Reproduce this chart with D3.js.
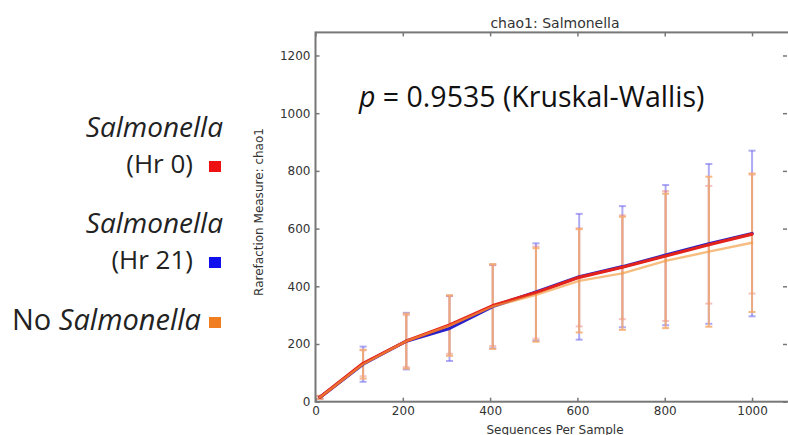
<!DOCTYPE html>
<html><head><meta charset="utf-8">
<script src="https://cdn.jsdelivr.net/npm/d3@7"></script>
<style>
body{margin:0;background:#fff;}
svg{display:block;}
</style></head>
<body><svg id="chart" width="788" height="435"></svg>
<script>
const depths = [10,109,208,307,406,505,604,703,802,901,1000];
const hr0Mean = [15,133,210,266,333,378,431,466,505,544,581];
const hr0Err  = [5,45,90,100,140,160,170,180,225,204,206];
const hr21Mean = [15,130,210,254,330,380,433,468,508,547,583];
const hr21Err  = [5,61,98,113,145,169,218,210,243,277,287];
const noSalMean = [15,130,210,264,330,370,419,445,488,520,551];
const noSalErr  = [5,50,95,105,147,162,179,196,233,260,240];
const xTicks = [0,200,400,600,800,1000];
const yTicks = [0,200,400,600,800,1000,1200];
const seriesNames = ["Salmonella (Hr 0)","Salmonella (Hr 21)","No Salmonella"];

const svg = d3.select("#chart");
const x = d3.scaleLinear().domain([0,1100]).range([315.5,795.7]);
const y = d3.scaleLinear().domain([0,1280]).range([401.7,32.4]);

const series = [
  {name:seriesNames[1], mean:hr21Mean, err:hr21Err, line:"#2a22c8", bar:"rgba(110,100,235,0.55)", w:3.2, op:1},
  {name:seriesNames[0], mean:hr0Mean, err:hr0Err, line:"#e3221c", bar:"rgba(235,120,110,0.45)", w:3.2, op:1},
  {name:seriesNames[2], mean:noSalMean, err:noSalErr, line:"#f39a3c", bar:"rgba(244,170,110,0.85)", w:2.4, op:0.65}
];

// error bars
series.forEach(s=>{
  const g = svg.append("g");
  depths.forEach((d,i)=>{
    const lo = s.mean[i]-s.err[i], hi = s.mean[i]+s.err[i];
    g.append("line").attr("x1",x(d)).attr("x2",x(d)).attr("y1",y(lo)).attr("y2",y(hi))
      .attr("stroke",s.bar).attr("stroke-width",2);
    [lo,hi].forEach(v=>{
      g.append("line").attr("x1",x(d)-3.5).attr("x2",x(d)+3.5).attr("y1",y(v)).attr("y2",y(v))
        .attr("stroke",s.bar).attr("stroke-width",2);
    });
  });
});

// lines
const lineGen = d3.line().x((d,i)=>x(depths[i])).y(d=>y(d));
series.forEach(s=>{
  svg.append("path").datum(s.mean).attr("d",lineGen).attr("fill","none")
    .attr("stroke",s.line).attr("stroke-width",s.w).attr("stroke-opacity",s.op)
    .attr("stroke-linejoin","round").attr("stroke-linecap","round");
});

// axes
const axCol = "#777";
function styleAxis(g){
  g.select(".domain").remove();
  g.selectAll(".tick line").attr("stroke",axCol).attr("stroke-width",1.5);
  g.selectAll(".tick text").attr("fill","#333").style("font-family","DejaVu Sans").style("font-size","12px");
}
svg.append("g").attr("transform","translate(0,401.7)")
  .call(d3.axisBottom(x).tickValues(xTicks).tickSize(-4).tickPadding(5).tickFormat(d3.format("d")))
  .call(styleAxis);
svg.append("g").attr("transform","translate(0,32.4)")
  .call(d3.axisTop(x).tickValues(xTicks).tickSize(-4).tickFormat(""))
  .call(styleAxis);
svg.append("g").attr("transform","translate(315.5,0)")
  .call(d3.axisLeft(y).tickValues(yTicks).tickSize(-4).tickPadding(5).tickFormat(d3.format("d")))
  .call(styleAxis);
svg.append("g").attr("transform","translate(787,0)")
  .call(d3.axisRight(y).tickValues(yTicks).tickSize(-4).tickFormat(""))
  .call(styleAxis);

// frame
svg.append("rect").attr("x",x(0)).attr("y",y(1280)).attr("width",x(1100)-x(0)).attr("height",y(0)-y(1280))
  .attr("fill","none").attr("stroke",axCol).attr("stroke-width",2);

// titles
svg.append("text").attr("x",555).attr("y",28).attr("text-anchor","middle")
  .style("font-family","DejaVu Sans").style("font-size","14px").attr("fill","#333").text("chao1: Salmonella");
svg.append("text").attr("x",555).attr("y",434).attr("text-anchor","middle")
  .style("font-family","DejaVu Sans").style("font-size","12px").attr("fill","#333").text("Sequences Per Sample");
svg.append("text").attr("transform","translate(263,212) rotate(-90)").attr("text-anchor","middle")
  .style("font-family","DejaVu Sans").style("font-size","12px").attr("fill","#333").text("Rarefaction Measure: chao1");

// annotation
const ann = svg.append("text").attr("x",359).attr("y",107)
  .style("font-family","Open Sans").style("font-size","28.5px").attr("fill","#111");
ann.append("tspan").style("font-style","italic").text("p");
ann.append("tspan").text(" = 0.9535 (Kruskal-Wallis)");

// legend
const legFont = "Open Sans";
const legColors = ["#ee1111","#1111ee","#f07d1f"];
function legText(xx, yy, size, parts){
  const t = svg.append("text").attr("x",xx).attr("y",yy).attr("text-anchor","end")
    .style("font-family",legFont).style("font-size",size+"px").attr("fill","#222");
  parts.forEach(p=>t.append("tspan").style("font-style",p[1]?"italic":"normal").text(p[0]));
}
legText(223,137,28,[["Salmonella",true]]);
legText(193,173,26,[["(Hr 0)",false]]);
legText(223,233,28,[["Salmonella",true]]);
legText(193,269,26,[["(Hr 21)",false]]);
legText(201,330,29,[["No ",false],["Salmonella",true]]);
const sqY = [161,257,317];
sqY.forEach((yy,i)=>{
  svg.append("rect").attr("x",209).attr("y",yy).attr("width",12).attr("height",11).attr("fill",legColors[i]);
});
</script></body></html>
